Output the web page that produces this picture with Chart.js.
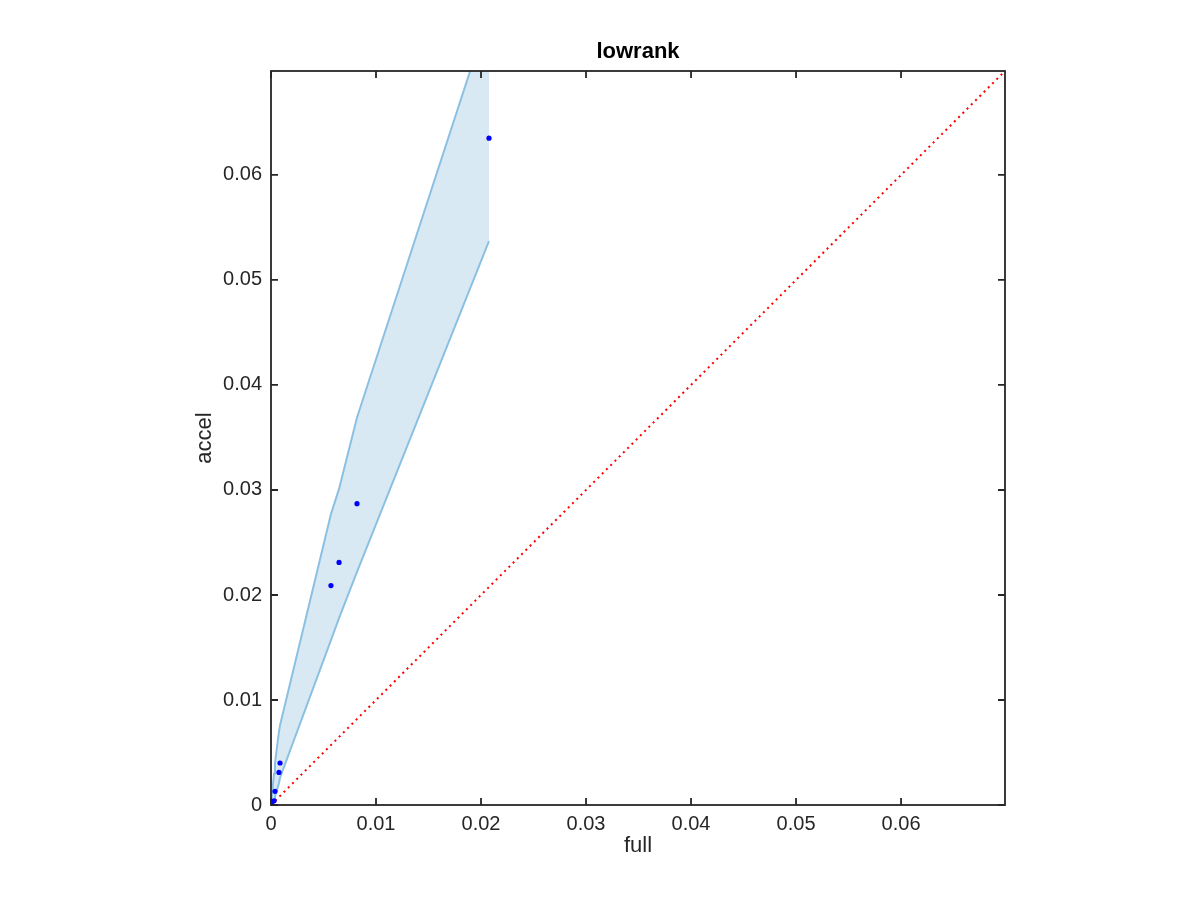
<!DOCTYPE html>
<html>
<head>
<meta charset="utf-8">
<script src="https://cdn.jsdelivr.net/npm/chart.js@4.4.1/dist/chart.umd.min.js"></script>
<style>
  body { margin: 0; background: #fff; }
  canvas { display: block; }
</style>
</head>
<body>
<canvas id="chart" width="1200" height="900"></canvas>
<script>
// measured points (full vs accel)
const fullTimes = [0, 0.0001, 0.00029, 0.00038, 0.00076, 0.00086, 0.00571, 0.00648, 0.00819, 0.02076];
const accelTimes = [0, 0.0000, 0.0004, 0.0013, 0.0031, 0.0040, 0.0209, 0.0231, 0.0287, 0.0635];

// shaded band, evaluated at the same x positions
const bandUpper = [0, 0.0010, 0.0030, 0.0040, 0.0070, 0.0076, 0.0277, 0.0301, 0.0369, 0.0754];
const bandLower = [0, 0.0001, 0.0004, 0.0008, 0.0021, 0.0026, 0.0157, 0.0178, 0.0222, 0.0537];

// y = x reference
const refLine = [0, 0.07];

const tickValues = [0, 0.01, 0.02, 0.03, 0.04, 0.05, 0.06];
const axisMax = 0.0699;

const axisColor = '#262626';
const fontFamily = '"Liberation Sans", Arial, Helvetica, sans-serif';

const toPoints = (xs, ys) => xs.map((x, i) => ({ x: x, y: ys[i] }));

// frame + inward tick marks on all four sides
const framePlugin = {
  id: 'frame',
  afterDraw(chart) {
    const { ctx, chartArea: a, scales } = chart;
    const len = 7;
    ctx.save();
    ctx.strokeStyle = axisColor;
    ctx.lineWidth = 1.8;
    ctx.strokeRect(a.left, a.top, a.right - a.left, a.bottom - a.top);
    ctx.beginPath();
    tickValues.forEach(v => {
      const px = scales.x.getPixelForValue(v);
      ctx.moveTo(px, a.bottom); ctx.lineTo(px, a.bottom - len);
      ctx.moveTo(px, a.top); ctx.lineTo(px, a.top + len);
      const py = scales.y.getPixelForValue(v);
      ctx.moveTo(a.left, py); ctx.lineTo(a.left + len, py);
      ctx.moveTo(a.right, py); ctx.lineTo(a.right - len, py);
    });
    ctx.stroke();
    ctx.restore();
  }
};

new Chart(document.getElementById('chart'), {
  type: 'scatter',
  data: {
    datasets: [
      {
        label: 'points',
        data: toPoints(fullTimes, accelTimes),
        backgroundColor: '#0000ff',
        borderWidth: 0,
        pointRadius: 2.6,
        showLine: false
      },
      {
        label: 'y = x',
        data: toPoints(refLine, refLine),
        showLine: true,
        borderColor: '#ff0000',
        borderWidth: 2,
        borderDash: [2, 4],
        pointRadius: 0,
        fill: false
      },
      {
        label: 'lower',
        data: toPoints(fullTimes, bandLower),
        showLine: true,
        borderColor: 'rgb(140,192,226)',
        borderWidth: 2,
        pointRadius: 0,
        fill: false
      },
      {
        label: 'upper',
        data: toPoints(fullTimes, bandUpper),
        showLine: true,
        borderColor: 'rgb(140,192,226)',
        borderWidth: 2,
        pointRadius: 0,
        backgroundColor: 'rgb(217,233,244)',
        fill: '-1'
      }
    ]
  },
  options: {
    responsive: false,
    animation: false,
    layout: { padding: { left: 188, right: 195, top: 30, bottom: 37 } },
    plugins: {
      legend: { display: false },
      tooltip: { enabled: false },
      title: {
        display: true,
        text: 'lowrank',
        fullSize: false,
        color: '#000',
        font: { family: fontFamily, size: 22, weight: 'bold' },
        padding: { top: 9, bottom: 5.6 }
      }
    },
    scales: {
      x: {
        type: 'linear',
        min: 0,
        max: axisMax,
        afterBuildTicks: s => { s.ticks = tickValues.map(v => ({ value: v })); },
        afterFit: s => { s.height = 58; },
        grid: { display: false, drawTicks: false },
        border: { display: false },
        ticks: {
          color: axisColor,
          padding: 7,
          maxRotation: 0,
          font: { family: fontFamily, size: 20 },
          callback: v => String(+v.toFixed(2))
        },
        title: {
          display: true,
          text: 'full',
          color: axisColor,
          font: { family: fontFamily, size: 22 },
          padding: 4
        }
      },
      y: {
        type: 'linear',
        min: 0,
        max: axisMax,
        afterBuildTicks: s => { s.ticks = tickValues.map(v => ({ value: v })); },
        afterFit: s => { s.width = 83; },
        grid: { display: false, drawTicks: false },
        border: { display: false },
        ticks: {
          color: axisColor,
          padding: 9,
          font: { family: fontFamily, size: 20 },
          callback: v => String(+v.toFixed(2))
        },
        title: {
          display: true,
          text: 'accel',
          color: axisColor,
          font: { family: fontFamily, size: 22 },
          padding: 4
        }
      }
    }
  },
  plugins: [framePlugin]
});
</script>
</body>
</html>
